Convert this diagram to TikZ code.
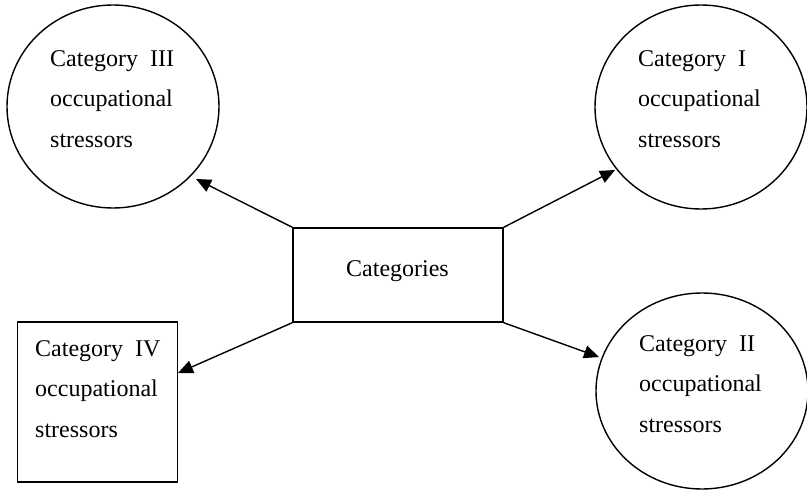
\documentclass[tikz,border=0pt]{standalone}
\usepackage{fontspec}
\setmainfont{Liberation Serif}
\usetikzlibrary{arrows.meta,shapes.geometric}
\begin{document}
\begin{tikzpicture}[x=1pt,y=-1pt,
  shp/.style={draw=black,line width=1.4pt,inner sep=0pt},
  oval/.style={shp,ellipse},
  box/.style={shp,rectangle},
  lbl/.style={font=\fontsize{24}{40.5}\selectfont,align=left,anchor=base west,inner sep=0pt},
  conn/.style={line width=1.4pt,-{Triangle[length=15pt,width=13pt]}}]
\useasboundingbox (0,0) rectangle (807,490);
\node[oval,minimum width=212pt,minimum height=203pt] (c3) at (113,106.5) {};
\node[oval,minimum width=212pt,minimum height=204pt] (c1) at (701,107) {};
\node[oval,minimum width=212pt,minimum height=196pt] (c2) at (702,391) {};
\node[box,minimum width=160pt,minimum height=160pt] (c4) at (97.5,402) {};
\node[box,minimum width=210pt,minimum height=94pt] (cat) at (398,275) {};
\node[font=\fontsize{24}{29}\selectfont,anchor=base,inner sep=0pt] (catl) at (397.5,276) {Categories};
\node[lbl] (c3l) at (50,147) {Category\ \ III\\occupational\\stressors};
\node[lbl] (c1l) at (638,147) {Category\ \ I\\occupational\\stressors};
\node[lbl] (c2l) at (639,432) {Category\ \ II\\occupational\\stressors};
\node[lbl] (c4l) at (35,437) {Category\ \ IV\\occupational\\stressors};
\coordinate (t3) at (196,179);
\coordinate (t1) at (615,170);
\coordinate (t4) at (178,373);
\coordinate (t2) at (599,357);
\draw[conn] (cat.north west) -- (t3);
\draw[conn] (cat.north east) -- (t1);
\draw[conn] (cat.south west) -- (t4);
\draw[conn] (cat.south east) -- (t2);
\end{tikzpicture}
\end{document}
